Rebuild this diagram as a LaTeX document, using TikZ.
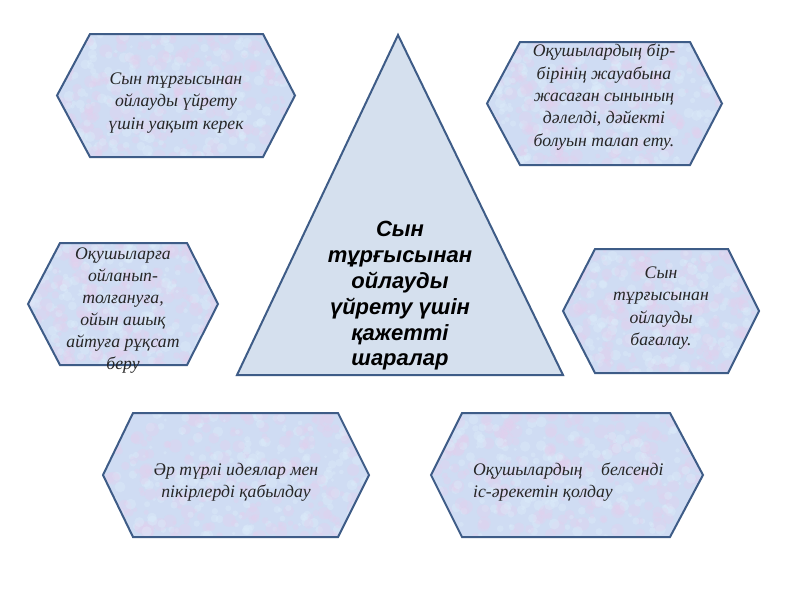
\documentclass[tikz,border=0pt]{standalone}
\usepackage{fontspec}
\setmainfont{Liberation Serif}
\setsansfont{Liberation Sans}
\begin{document}
\begin{tikzpicture}[x=1pt,y=-1pt]
\definecolor{hexfill}{RGB}{207,220,243}
\definecolor{hexpink}{RGB}{228,208,238}
\definecolor{hexlight}{RGB}{220,236,250}
\definecolor{hexedge}{RGB}{62,92,135}
\definecolor{trifill}{RGB}{213,224,238}
\tikzset{
  hexbox/.style={draw=hexedge,line width=2pt,line join=miter},
  tribox/.style={draw=hexedge,line width=2pt,fill=trifill,line join=miter},
  hextext/.style={font=\itshape\fontsize{17.7}{22.4}\selectfont,align=center,inner sep=0pt,text=black!85},
  tritext/.style={font=\sffamily\bfseries\itshape\fontsize{22}{25.8}\selectfont,align=center,inner sep=0pt}
}
\newcommand\myhexa[6]{%
  \begin{scope}
    \clip (#1,{(#5+#6)/2}) -- (#2,#5) -- (#3,#5) -- (#4,{(#5+#6)/2}) -- (#3,#6) -- (#2,#6) -- cycle;
    \fill[hexfill] (#1,#5) rectangle (#4,#6);
    \foreach \k in {1,...,220}{%
      \pgfmathsetmacro\px{#1+rnd*(#4-#1)}%
      \pgfmathsetmacro\py{#5+rnd*(#6-#5)}%
      \pgfmathsetmacro\pr{2+rnd*5}%
      \fill[hexpink,opacity=0.35] (\px,\py) circle[radius=\pr];
      \pgfmathsetmacro\qx{#1+rnd*(#4-#1)}%
      \pgfmathsetmacro\qy{#5+rnd*(#6-#5)}%
      \pgfmathsetmacro\qr{1.5+rnd*4}%
      \fill[hexlight,opacity=0.4] (\qx,\qy) circle[radius=\qr];
    }
  \end{scope}
  \draw[hexbox] (#1,{(#5+#6)/2}) -- (#2,#5) -- (#3,#5) -- (#4,{(#5+#6)/2}) -- (#3,#6) -- (#2,#6) -- cycle;
}
\pgfmathsetseed{7}
\useasboundingbox (0,0) rectangle (800,600);
\fill[white] (0,0) rectangle (800,600);
% triangle
\draw[tribox] (398,35) -- (563,375) -- (237,375) -- cycle;
\node[tritext] (center) at (400,296) {Сын\\тұрғысынан\\ойлауды\\үйрету үшін\\қажетті\\шаралар};
% hexagons
\myhexa{57}{90}{263}{295}{34}{157}
\node[hextext] (h1) at (176,103) {Сын тұрғысынан\\ойлауды үйрету\\үшін уақыт керек};
\myhexa{487}{520}{690}{722}{42}{165}
\node[hextext] (h2) at (604,97) {Оқушылардың бір-\\бірінің жауабына\\жасаған сынының\\дәлелді, дәйекті\\болуын талап ету.};
\myhexa{28}{60}{187}{218}{243}{365}
\node[hextext,font=\itshape\fontsize{17.7}{22}\selectfont] (h3) at (123,311) {Оқушыларға\\ойланып-\\толғануға,\\ойын ашық\\айтуға рұқсат\\беру};
\myhexa{563}{595}{728}{759}{249}{373}
\node[hextext] (h4) at (661,308) {Сын\\тұрғысынан\\ойлауды\\бағалау.};
\myhexa{103}{133}{338}{369}{413}{537}
\node[hextext] (h5) at (236,482) {Әр түрлі идеялар мен\\пікірлерді қабылдау};
\myhexa{431}{462}{670}{703}{413}{537}
\node[hextext,align=left,anchor=west] (h6) at (473,482) {Оқушылардың\hspace{1.05em}белсенді\\іс-әрекетін қолдау};
\end{tikzpicture}
\end{document}
